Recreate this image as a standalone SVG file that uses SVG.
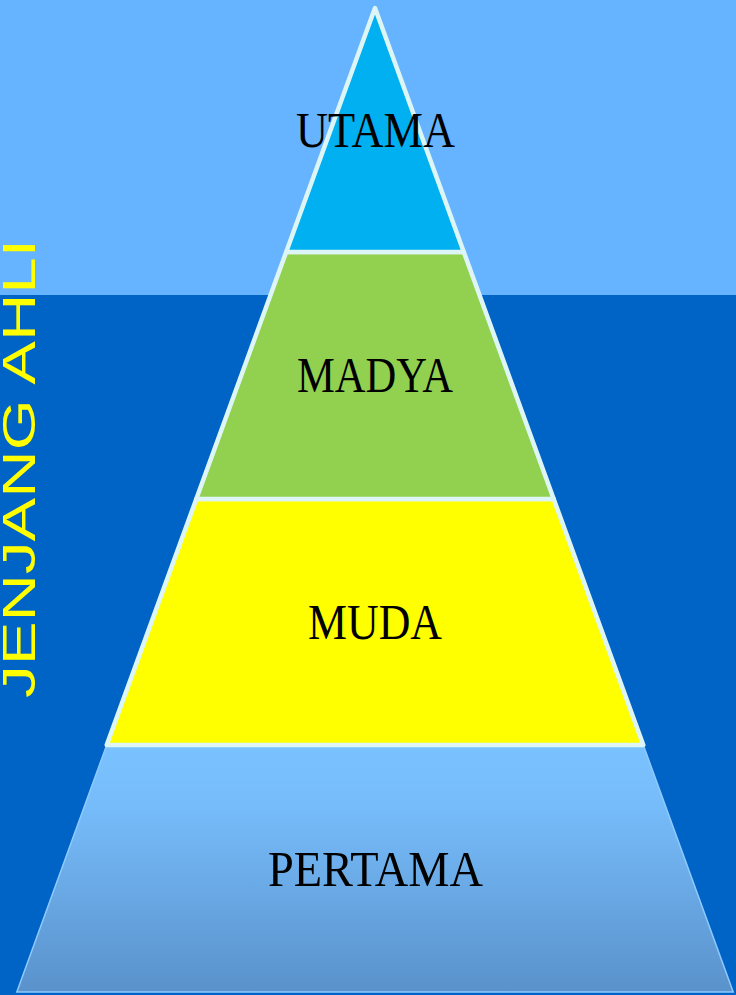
<svg xmlns="http://www.w3.org/2000/svg" width="736" height="995" viewBox="0 0 736 995">
<defs>
<linearGradient id="gPertama" x1="0" y1="0" x2="0" y2="1">
<stop offset="0" stop-color="#7AC2FF"/>
<stop offset="0.25" stop-color="#76BCFA"/>
<stop offset="1" stop-color="#5A92CB"/>
</linearGradient>
</defs>
<style>
.lvl{stroke:#DDF5F5;stroke-width:4.5;stroke-linejoin:round}
.lbl{font-family:"Liberation Serif","DejaVu Serif",serif;font-size:51px;fill:#000;text-anchor:middle}
.side{font-family:"Liberation Sans",Arial,sans-serif;font-size:46px;fill:#FFFF00}
</style>
<g id="background">
<rect x="0" y="0" width="736" height="295" fill="#66B3FF"/>
<rect x="0" y="295" width="736" height="700" fill="#0063C6"/>
</g>
<g id="side-label">
<text class="side" transform="translate(34.5,698) rotate(-90)" textLength="459" lengthAdjust="spacingAndGlyphs">JENJANG AHLI</text>
</g>
<g id="pertama">
<polygon points="106.7,745 643.3,745 733.2,992 16.8,992" fill="url(#gPertama)" stroke="#8ECAFF" stroke-width="1.5"/>
<text class="lbl" x="375.5" y="886" textLength="215" lengthAdjust="spacingAndGlyphs">PERTAMA</text>
</g>
<g id="muda">
<polygon class="lvl" points="196.3,499 553.7,499 643.3,745 106.7,745" fill="#FFFF00"/>
<text class="lbl" x="375" y="639" textLength="134" lengthAdjust="spacingAndGlyphs">MUDA</text>
</g>
<g id="madya">
<polygon class="lvl" points="286.2,252 463.8,252 553.7,499 196.3,499" fill="#92D050"/>
<text class="lbl" x="375" y="392" textLength="156" lengthAdjust="spacingAndGlyphs">MADYA</text>
</g>
<g id="utama">
<polygon class="lvl" points="375,8 463.8,252 286.2,252" fill="#00B0F0"/>
<text class="lbl" x="375.5" y="147" textLength="159" lengthAdjust="spacingAndGlyphs">UTAMA</text>
</g>
<g id="connectors"/>
</svg>
